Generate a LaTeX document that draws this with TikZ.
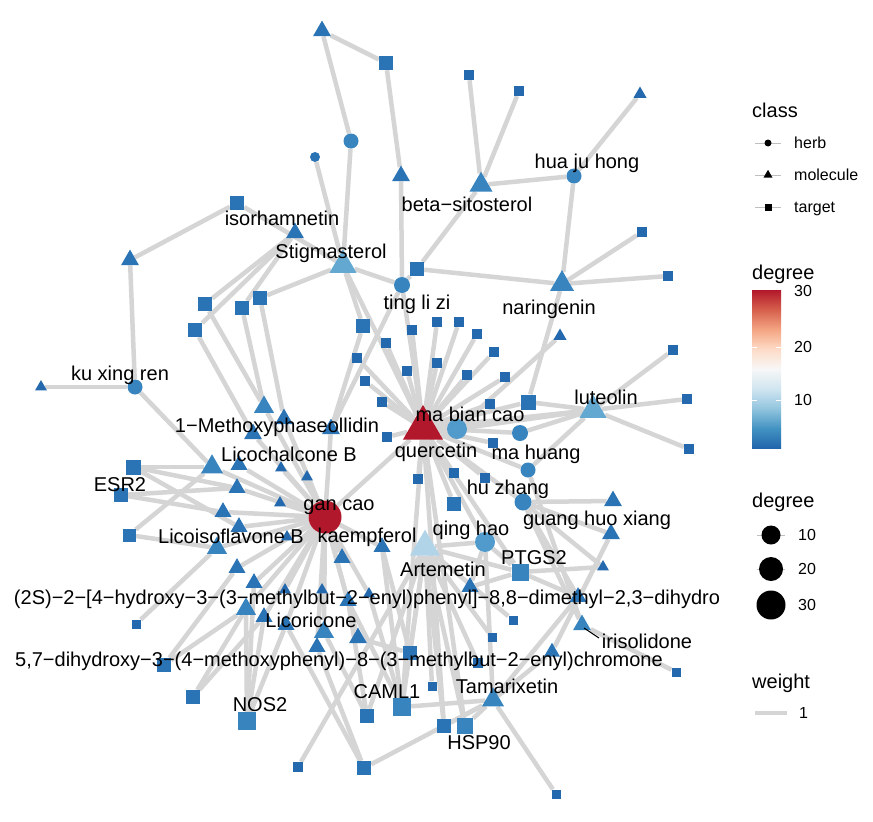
\documentclass[tikz,border=0pt]{standalone}
\usepackage{fontspec}
\setmainfont{Liberation Sans}
\usetikzlibrary{shapes.geometric}
\pgfdeclarelayer{bg}
\pgfdeclarelayer{paper}
\pgfsetlayers{paper,bg,main}
\definecolor{c1}{RGB}{36,104,173}
\definecolor{c2}{RGB}{42,115,181}
\definecolor{c3}{RGB}{55,132,191}
\definecolor{c4}{RGB}{80,155,203}
\definecolor{c5}{RGB}{99,168,208}
\definecolor{c6}{RGB}{178,212,232}
\definecolor{rd}{RGB}{178,24,43}
\definecolor{eg}{RGB}{213,213,213}
\definecolor{b1}{HTML}{2166AC}
\definecolor{b2}{HTML}{4393C3}
\definecolor{b3}{HTML}{92C5DE}
\definecolor{b4}{HTML}{D1E5F0}
\definecolor{b5}{HTML}{F7F7F7}
\definecolor{b6}{HTML}{FDDBC7}
\definecolor{b7}{HTML}{F4A582}
\definecolor{b8}{HTML}{D6604D}
\definecolor{b9}{HTML}{B2182B}
\tikzset{
  lnk/.style={draw=eg, line width=4.5pt},
  sq/.style={rectangle, inner sep=0pt, minimum size=#1pt, draw=none},
  tri/.style={regular polygon, regular polygon sides=3, inner sep=0pt, minimum size={1.155*#1pt}, draw=none},
  hrb/.style={circle, inner sep=0pt, minimum size=#1pt, draw=none},
  lbl/.style={inner sep=0pt, text height=14pt, text depth=0pt, font=\fontsize{20}{24}\selectfont},
  ttl/.style={inner sep=0pt, text height=14pt, text depth=0pt, anchor=west, font=\fontsize{20}{24}\selectfont},
  ltx/.style={inner sep=0pt, text height=11.5pt, text depth=0pt, anchor=west, font=\fontsize{16}{19}\selectfont},
  keyln/.style={draw=black!25, line width=0.8pt},
}
\begin{document}
\begin{tikzpicture}[x=1pt,y=-1pt]
\begin{pgfonlayer}{paper}
\fill[white] (0,0) rectangle (873,822);
\end{pgfonlayer}
\useasboundingbox (0,0) rectangle (873,822);
% ---------- nodes ----------
\node[tri=18,fill=c2] (t1) at (322,31) {};
\node[sq=14,fill=c2] (s1) at (386,63) {};
\node[sq=10,fill=c1] (s2) at (469,75) {};
\node[sq=10,fill=c1] (s3) at (519,91) {};
\node[tri=13,fill=c1] (t2) at (640,94) {};
\node[hrb=15,fill=c3] (h1) at (351,141) {};
\node[hrb=10,fill=c2] (h2) at (315,157) {};
\node[tri=18,fill=c2] (t3) at (401,176) {};
\node[tri=23,fill=c3] (bsit) at (481,185) {};
\node[hrb=15,fill=c3] (hjh) at (574,176) {};
\node[sq=14,fill=c2] (s4) at (237,203) {};
\node[tri=18,fill=c2] (isor) at (295,233) {};
\node[tri=18,fill=c2] (t4) at (130,260) {};
\node[tri=27,fill=c5] (stig) at (343,265) {};
\node[sq=10,fill=c1] (s5) at (642,232) {};
\node[tri=24,fill=c3] (nari) at (562,284) {};
\node[sq=14,fill=c2] (s6) at (417,269) {};
\node[hrb=16,fill=c3] (tlz) at (402,285) {};
\node[sq=10,fill=c1] (s7) at (668,276) {};
\node[sq=14,fill=c2] (s8) at (260,298) {};
\node[sq=14,fill=c2] (s9) at (205,304) {};
\node[sq=14,fill=c2] (s10) at (242,308) {};
\node[sq=14,fill=c2] (s11) at (195,330) {};
\node[sq=14,fill=c2] (s12) at (363,326) {};
\node[hrb=15,fill=c3] (kxr) at (135,387) {};
\node[tri=12,fill=c1] (t5) at (41,387) {};
% quercetin targets
\node[sq=10,fill=c1] (q1) at (412,330) {};
\node[sq=10,fill=c1] (q2) at (437,322) {};
\node[sq=10,fill=c1] (q3) at (459,322) {};
\node[sq=10,fill=c1] (q4) at (477,334) {};
\node[sq=10,fill=c1] (q5) at (494,352) {};
\node[sq=10,fill=c1] (q6) at (386,343) {};
\node[sq=10,fill=c1] (q7) at (437,363) {};
\node[sq=10,fill=c1] (q8) at (407,371) {};
\node[sq=10,fill=c1] (q9) at (467,375) {};
\node[sq=10,fill=c1] (q10) at (505,377) {};
\node[sq=10,fill=c1] (q11) at (365,381) {};
\node[sq=10,fill=c1] (q12) at (357,358) {};
\node[sq=10,fill=c1] (q13) at (382,402) {};
\node[sq=10,fill=c1] (q14) at (490,404) {};
\node[sq=10,fill=c1] (q15) at (387,437) {};
\node[sq=10,fill=c1] (q16) at (493,443) {};
\node[sq=10,fill=c1] (q17) at (418,479) {};
\node[sq=10,fill=c1] (q18) at (454,473) {};
\node[sq=10,fill=c1] (q19) at (485,478) {};
\node[sq=14,fill=c2] (q20) at (454,504) {};
\node[sq=15,fill=c2] (s13) at (528,402) {};
\node[tri=13,fill=c1] (tn) at (560,336) {};
\node[tri=40,fill=rd] (quer) at (423,428) {};
\node[hrb=20,fill=c4] (mbc) at (457,429) {};
\node[hrb=16,fill=c3] (mh) at (520,433) {};
\node[hrb=15,fill=c3] (h3) at (528,470) {};
\node[hrb=17,fill=c3] (hz) at (523,502) {};
\node[tri=27,fill=c5] (lut) at (593,410) {};
\node[sq=10,fill=c1] (s14) at (673,350) {};
\node[sq=10,fill=c1] (s15) at (687,399) {};
\node[sq=10,fill=c1] (s16) at (689,449) {};
\node[tri=18,fill=c2] (tg1) at (613,501) {};
\node[tri=18,fill=c2] (tg2) at (611,534) {};
\node[hrb=20,fill=c4] (qh) at (485,542) {};
\node[tri=30,fill=c6] (art) at (425,547) {};
\node[tri=17,fill=c2] (t470) at (470,587) {};
\node[sq=17,fill=c3] (ptgs) at (520,572) {};
\node[tri=12,fill=c1] (t603) at (603,567) {};
\node[tri=17,fill=c2] (t578) at (578,597) {};
\node[tri=18,fill=c3] (iris) at (582,625) {};
\node[sq=9,fill=c1] (s513) at (513,620) {};
\node[sq=9,fill=c1] (s492) at (492,637) {};
\node[tri=16,fill=c2] (t552) at (552,652) {};
\node[tri=22,fill=c3] (tamx) at (493,700) {};
\node[sq=9,fill=c1] (s676) at (676,672) {};
\node[sq=9,fill=c1] (s556) at (556,794) {};
\node[sq=14,fill=c2] (s410) at (410,653) {};
\node[sq=10,fill=c1] (s478) at (478,663) {};
\node[sq=9,fill=c1] (s432) at (432,686) {};
\node[sq=14,fill=c2] (s367) at (367,716) {};
\node[sq=18,fill=c3] (caml) at (402,707) {};
\node[sq=14,fill=c2] (s444) at (444,726) {};
\node[sq=16,fill=c3] (hsp) at (465,726) {};
\node[sq=10,fill=c1] (s298) at (298,767) {};
\node[sq=14,fill=c2] (s364) at (364,768) {};
\node[sq=18,fill=c3] (nos) at (247,721) {};
% gan cao cluster
\node[tri=22,fill=c3] (lcb) at (212,467) {};
\node[tri=17,fill=c2] (g1) at (239,465) {};
\node[tri=12,fill=c1] (g2) at (281,468) {};
\node[tri=12,fill=c1] (g3) at (307,477) {};
\node[tri=17,fill=c2] (g4) at (237,488) {};
\node[tri=12,fill=c1] (g5) at (280,503) {};
\node[tri=17,fill=c2] (g6) at (223,512) {};
\node[tri=17,fill=c2] (g7) at (239,527) {};
\node[tri=12,fill=c1] (g8) at (287,537) {};
\node[tri=20,fill=c3] (lib) at (217,548) {};
\node[tri=17,fill=c2] (g9) at (237,568) {};
\node[tri=17,fill=c2] (g10) at (254,583) {};
\node[tri=12,fill=c1] (g11) at (285,590) {};
\node[tri=20,fill=c3] (g12) at (246,609) {};
\node[tri=17,fill=c2] (g13) at (264,617) {};
\node[tri=17,fill=c2] (g14) at (286,625) {};
\node[tri=12,fill=c1] (g15) at (322,590) {};
\node[tri=17,fill=c2] (g16) at (342,558) {};
\node[tri=17,fill=c2] (kaem) at (382,547) {};
\node[tri=20,fill=c3] (g17) at (324,632) {};
\node[tri=17,fill=c2] (g18) at (317,647) {};
\node[tri=18,fill=c2] (g19) at (358,638) {};
\node[tri=17,fill=c2] (g20) at (348,601) {};
\node[tri=12,fill=c1] (g21) at (369,594) {};
\node[tri=20,fill=c3] (m1) at (264,407) {};
\node[tri=18,fill=c2] (m2) at (284,419) {};
\node[tri=18,fill=c2] (m3) at (253,434) {};
\node[tri=18,fill=c2] (m4) at (331,429) {};
\node[sq=15,fill=c2] (esr) at (133,467) {};
\node[sq=14,fill=c2] (e2) at (121,495) {};
\node[sq=13,fill=c2] (e3) at (129,535) {};
\node[sq=9,fill=c1] (e4) at (136,624) {};
\node[sq=14,fill=c2] (e5) at (164,665) {};
\node[sq=14,fill=c2] (e6) at (193,697) {};
\node[hrb=33,fill=rd] (gan) at (325,517) {};
% ---------- edges ----------
\begin{pgfonlayer}{bg}
\foreach \a/\b in {t1/s1,t1/h1,s1/t3,t3/tlz,s2/bsit,s3/bsit,bsit/hjh,t2/hjh,hjh/nari,bsit/s6,
  h1/stig,h2/stig,s4/t4,s4/stig,t4/kxr,kxr/t5,kxr/lcb,nari/s6,nari/s5,nari/s7,nari/s13,
  stig/tlz,stig/s8,isor/s9,isor/s11,isor/s10,stig/quer,stig/s12,tlz/quer,tlz/s6,tlz/m4,tn/mbc,
  m4/gan,s8/m2,s9/m1,s10/m1,s11/m3,s12/m4,
  quer/q1,quer/q2,quer/q3,quer/q4,quer/q5,quer/q6,quer/q7,quer/q8,quer/q9,quer/q10,
  quer/q11,quer/q12,quer/q13,quer/q14,quer/q15,quer/q16,quer/q17,quer/q18,quer/q19,quer/q20,
  quer/mbc,quer/mh,quer/h3,quer/hz,quer/qh,quer/gan,quer/lut,quer/s13,quer/caml,quer/hsp,quer/ptgs,quer/s444,
  lut/s14,lut/s15,lut/s16,lut/mbc,lut/mh,lut/h3,lut/s13,
  hz/tg1,hz/tg2,hz/iris,hz/t603,hz/t578,h3/iris,tg2/t552,
  qh/art,qh/t470,qh/tamx,qh/ptgs,
  art/s410,art/s432,art/s444,art/hsp,art/caml,art/s478,art/s513,art/s492,art/ptgs,art/s367,art/s298,
  kaem/s410,kaem/caml,t470/ptgs,
  tamx/caml,tamx/hsp,tamx/s444,tamx/s556,tamx/s364,tamx/t552,tamx/t578,
  iris/s676,ptgs/t603,ptgs/t578,
  gan/lcb,gan/g1,gan/g2,gan/g3,gan/g4,gan/g5,gan/g6,gan/g7,gan/g8,gan/lib,gan/g9,gan/g10,gan/g11,
  gan/g12,gan/g13,gan/g14,gan/g15,gan/g16,gan/kaem,gan/g17,gan/g18,gan/g19,gan/g20,gan/g21,
  gan/m1,gan/m2,gan/m3,
  esr/lcb,esr/g4,esr/g7,e2/g6,e2/g4,e3/lcb,e3/lib,e4/lib,e5/g9,e5/g12,e6/g12,e6/g13,
  nos/g12,nos/g13,nos/g14,nos/g10,s364/g18,s364/g14,s367/g17,s367/g20,
  caml/g20,caml/g21,s410/g19}
  {\draw[lnk] (\a) -- (\b);}
\end{pgfonlayer}
% ---------- labels ----------
\node[lbl] (Lbsit) at (467,204) {beta−sitosterol};
\node[lbl] (Lhjh) at (587,161) {hua ju hong};
\node[lbl] (Lisor) at (282,218) {isorhamnetin};
\node[lbl] (Lstig) at (331,251) {Stigmasterol};
\node[lbl] (Lnari) at (549,307) {naringenin};
\node[lbl] (Ltlz) at (417,302) {ting li zi};
\node[lbl] (Lkxr) at (120,373) {ku xing ren};
\node[lbl] (Lmeth) at (277,425) {1−Methoxyphaseollidin};
\node[lbl] (Lmbc) at (470,414) {ma bian cao};
\node[lbl] (Llut) at (606,397) {luteolin};
\node[lbl] (Lquer) at (436,450) {quercetin};
\node[lbl] (Lmh) at (536,452) {ma huang};
\node[lbl] (Llcb) at (289,454) {Licochalcone B};
\node[lbl] (Lesr) at (120,484) {ESR2};
\node[lbl] (Lhz) at (508,487) {hu zhang};
\node[lbl] (Lgan) at (339,503) {gan cao};
\node[lbl] (Lghx) at (597,518) {guang huo xiang};
\node[lbl] (Lqh) at (471,528) {qing hao};
\node[lbl] (Lkaem) at (367,535) {kaempferol};
\node[lbl] (Llib) at (231,536) {Licoisoflavone B};
\node[lbl] (Lptgs) at (534,557) {PTGS2};
\node[lbl] (Lart) at (443,569) {Artemetin};
\node[lbl] (L2s) at (367,597) {(2S)−2−[4−hydroxy−3−(3−methylbut−2−enyl)phenyl]−8,8−dimethyl−2,3−dihydro};
\node[lbl] (Llic) at (311,620) {Licoricone};
\node[lbl] (Liris) at (647,641) {irisolidone};
\node[lbl] (L57) at (339,659) {5,7−dihydroxy−3−(4−methoxyphenyl)−8−(3−methylbut−2−enyl)chromone};
\node[lbl] (Ltamx) at (507,686) {Tamarixetin};
\node[lbl] (Lcaml) at (387,691) {CAML1};
\node[lbl] (Lnos) at (260,704) {NOS2};
\node[lbl] (Lhsp) at (479,742) {HSP90};
\coordinate (ira) at (584,628);
\coordinate (irb) at (599,638);
\draw[black, line width=1.1pt] (ira) -- (irb);
% ---------- legend ----------
\node[ttl] (Tclass) at (752,110) {class};
\coordinate (ka1) at (755,143); \coordinate (kb1) at (781,143);
\coordinate (ka2) at (755,175); \coordinate (kb2) at (781,175);
\coordinate (ka3) at (755,207); \coordinate (kb3) at (781,207);
\draw[keyln] (ka1) -- (kb1);
\draw[keyln] (ka2) -- (kb2);
\draw[keyln] (ka3) -- (kb3);
\node[hrb=7,fill=black] (kherb) at (768,143) {};
\node[tri=9,fill=black] (kmol) at (768,175) {};
\node[sq=7,fill=black] (ktar) at (768,207) {};
\node[ltx] (Lherb) at (794,143) {herb};
\node[ltx] (Lmol) at (794,175) {molecule};
\node[ltx] (Ltar) at (794,207) {target};
\node[ttl] (Tdeg) at (752,272) {degree};
\shade[bottom color=b1, top color=b2] (752,448) rectangle (781,428.25);
\shade[bottom color=b2, top color=b3] (752,428.25) rectangle (781,408.5);
\shade[bottom color=b3, top color=b4] (752,408.5) rectangle (781,388.75);
\shade[bottom color=b4, top color=b5] (752,388.75) rectangle (781,369);
\shade[bottom color=b5, top color=b6] (752,369) rectangle (781,349.25);
\shade[bottom color=b6, top color=b7] (752,349.25) rectangle (781,329.5);
\shade[bottom color=b7, top color=b8] (752,329.5) rectangle (781,309.75);
\shade[bottom color=b8, top color=b9] (752,309.75) rectangle (781,290);
\foreach \yy in {347,400}{
  \draw[white, line width=0.8pt] (752,\yy) -- (757,\yy);
  \draw[white, line width=0.8pt] (776,\yy) -- (781,\yy);
}
\node[ltx] (L30) at (794,291) {30};
\node[ltx] (L20) at (794,347) {20};
\node[ltx] (L10) at (794,400) {10};
\node[ttl] (Tdeg2) at (752,500) {degree};
\coordinate (kc1) at (757,535); \coordinate (kd1) at (785,535);
\coordinate (kc2) at (757,569); \coordinate (kd2) at (785,569);
\coordinate (kc3) at (757,605); \coordinate (kd3) at (785,605);
\draw[keyln] (kc1) -- (kd1);
\draw[keyln] (kc2) -- (kd2);
\draw[keyln] (kc3) -- (kd3);
\node[hrb=19,fill=black] (ks1) at (771,535) {};
\node[hrb=24,fill=black] (ks2) at (771,569) {};
\node[hrb=29,fill=black] (ks3) at (771,605) {};
\node[ltx] (Ls10) at (798,535) {10};
\node[ltx] (Ls20) at (798,569) {20};
\node[ltx] (Ls30) at (798,605) {30};
\node[ttl] (Twt) at (752,681) {weight};
\coordinate (kw1) at (755,713); \coordinate (kw2) at (787,713);
\draw[lnk, line width=3.5pt] (kw1) -- (kw2);
\node[ltx] (Lw1) at (799,713) {1};
\end{tikzpicture}
\end{document}
